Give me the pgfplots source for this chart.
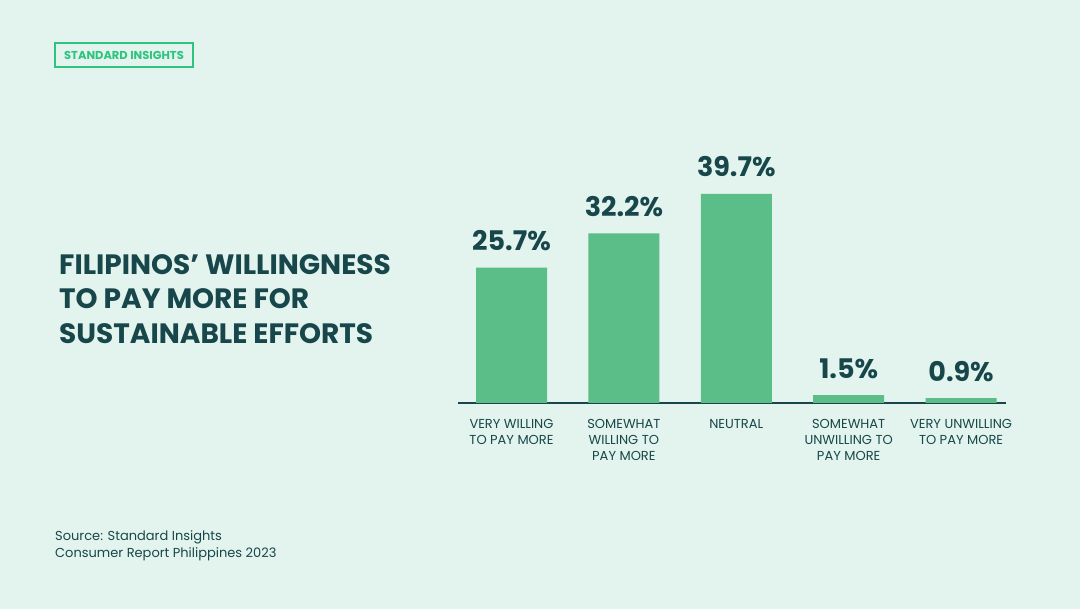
\documentclass[border=0pt]{standalone}
\usepackage{pgfplots}
\pgfplotsset{compat=1.18}
\usepackage{fontspec}
\setmainfont{Poppins}
\definecolor{bg}{HTML}{E3F3EE}
\definecolor{barc}{HTML}{5BBD87}
\definecolor{ink}{HTML}{17474B}
\definecolor{logo}{HTML}{2CC47E}
\begin{document}
\begin{tikzpicture}[x=1pt,y=1pt]
\fill[bg] (0,0) rectangle (1080,609);
\node[draw=logo, line width=2pt, text=logo, font=\fontsize{11.5}{13}\selectfont\bfseries, inner sep=0pt, minimum height=24pt, minimum width=138pt] at (124,554) {STANDARD INSIGHTS};
\node[anchor=base west, inner sep=0pt, text=ink, font=\fontsize{28}{33}\selectfont\bfseries] at (59,334) {FILIPINOS’ WILLINGNESS};
\node[anchor=base west, inner sep=0pt, text=ink, font=\fontsize{28}{33}\selectfont\bfseries] at (59,300) {TO PAY MORE FOR};
\node[anchor=base west, inner sep=0pt, text=ink, font=\fontsize{28}{33}\selectfont\bfseries] at (59,265) {SUSTAINABLE EFFORTS};
\node[anchor=base west, inner sep=0pt, text=ink, font=\fontsize{13}{16}\selectfont] at (55,68) {Source: Standard Insights};
\node[anchor=base west, inner sep=0pt, text=ink, font=\fontsize{13}{16}\selectfont] at (55,51) {Consumer Report Philippines 2023};
\begin{axis}[
  at={(458pt,206pt)}, anchor=south west,
  scale only axis, width=548pt, height=210.8pt,
  xmin=-0.476, xmax=4.4, ymin=0, ymax=40,
  hide y axis, axis x line*=bottom,
  axis line style={ink, line width=1.5pt, -},
  xtick={0,1,2,3,4}, major tick length=0pt,
  xticklabels={{VERY WILLING\\TO PAY MORE},{SOMEWHAT\\WILLING TO\\PAY MORE},{NEUTRAL},{SOMEWHAT\\UNWILLING TO\\PAY MORE},{VERY UNWILLING\\TO PAY MORE}},
  xticklabel style={align=center, text=ink, font=\fontsize{13}{16}\selectfont, anchor=north, yshift=-13pt},
  clip=false,
  point meta=explicit symbolic,
  nodes near coords,
  nodes near coords style={anchor=base, inner sep=0pt, yshift=17pt, text=ink, font=\fontsize{27}{30}\selectfont\bfseries},
]
\addplot[ybar, bar width=71pt, fill=barc, draw=none] coordinates {
 (0,25.7) [25.7\%]
 (1,32.2) [32.2\%]
 (2,39.7) [39.7\%]
 (3,1.5) [1.5\%]
 (4,0.9) [0.9\%]
};
\end{axis}
\end{tikzpicture}
\end{document}
